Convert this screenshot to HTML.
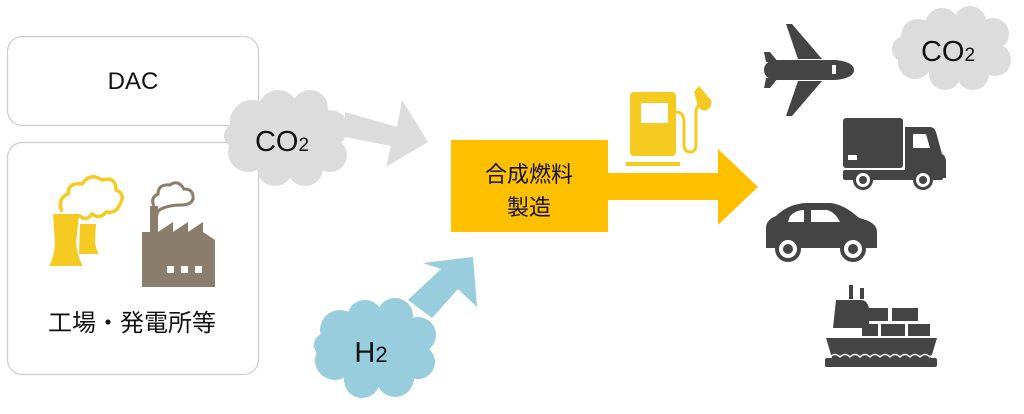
<!DOCTYPE html>
<html><head><meta charset="utf-8"><style>
html,body{margin:0;padding:0;background:#fff;}
svg{display:block}
text{font-family:"Liberation Sans","Noto Sans CJK JP",sans-serif;fill:#111}
</style></head><body>
<svg width="1024" height="414" viewBox="0 0 1024 414" xmlns="http://www.w3.org/2000/svg">
<rect x="7.5" y="36.5" width="251" height="89" rx="15" fill="#fff" stroke="#ccc" stroke-width="1.2"/>
<rect x="7.5" y="142.5" width="251" height="232" rx="15" fill="#fff" stroke="#ccc" stroke-width="1.2"/>
<text x="133" y="89" font-size="24" text-anchor="middle">DAC</text>
<text x="132" y="331" font-size="24" text-anchor="middle">工場・発電所等</text>

<g fill="#f5cb22">
<path d="M53 214 h26 l-3 30 q2 14 7 22 h-34 q5 -8 6 -22 z"/>
<path d="M80 224 h16 l-1 18 q1 8 4 12 h-20 z"/>
</g>
<path d="M62 212 q-5 -14 6 -18 q0 -12 14 -10 q8 -12 20 -4 q14 -4 14 10 q10 4 4 14 q-4 10 -14 8 q-6 8 -14 2 q-6 8 -12 2 q-8 0 -8 6" fill="none" stroke="#f5cb22" stroke-width="3.5"/>
<g fill="#8a7d6b">
<path d="M142 287 v-55 h8 v-26 h8 v26 l15 -10 v10 l15 -10 v10 l15 -10 v10 l12 8 v47 z"/>
</g>
<g fill="#fff"><rect x="167" y="266" width="7" height="7"/><rect x="181" y="266" width="7" height="7"/><rect x="195" y="266" width="7" height="7"/></g>
<path d="M154 206 q-4 -8 4 -12 q0 -10 12 -9 q8 -6 14 4 q10 0 9 10 q-2 6 -12 6 q-12 0 -20 4 q-4 2 -4 6" fill="none" stroke="#8a7d6b" stroke-width="3"/>

<polygon points="345,112 397,127 402,100 428,142 386,167 391,146 345,137" fill="#dcdcdc"/>
<g fill="#dcdcdc">
<circle cx="252" cy="122" r="22"/><circle cx="278" cy="110" r="20"/><circle cx="310" cy="108" r="18"/><circle cx="330" cy="128" r="18"/>
<circle cx="330" cy="155" r="17"/><circle cx="305" cy="168" r="18"/><circle cx="275" cy="168" r="18"/><circle cx="248" cy="152" r="20"/><circle cx="286" cy="140" r="35"/>
<circle cx="236" cy="136" r="12"/>
</g>
<text x="282" y="151" font-size="29" text-anchor="middle">CO<tspan font-size="19">2</tspan></text>

<polygon points="408,300 441,269 423,263 473,257 477,307 458,289 432,318" fill="#97cddc"/>
<g fill="#97cddc">
<circle cx="340" cy="330" r="20"/><circle cx="365" cy="318" r="18"/><circle cx="395" cy="316" r="18"/><circle cx="418" cy="335" r="18"/>
<circle cx="418" cy="362" r="17"/><circle cx="395" cy="378" r="19"/><circle cx="362" cy="380" r="18"/><circle cx="335" cy="360" r="20"/><circle cx="374" cy="350" r="34"/>
<circle cx="326" cy="345" r="12"/>
</g>
<text x="371" y="362" font-size="29" text-anchor="middle">H<tspan font-size="22">2</tspan></text>

<rect x="451" y="140" width="157" height="92" fill="#ffc000"/>
<polygon points="607,173 718,173 718,149 758,187 718,225 718,200 607,200" fill="#ffc000"/>
<text x="529" y="182" font-size="22" text-anchor="middle">合成燃料</text>
<text x="529" y="215" font-size="22" text-anchor="middle">製造</text>

<g fill="#f5cb22">
<rect x="630" y="92" width="46" height="64" rx="4"/>
<rect x="626" y="162" width="54" height="4"/>
</g>
<rect x="641" y="103" width="27" height="20" fill="#fff"/>
<path d="M676 112 q8 0 8 10 v22 q0 8 6 8 q6 0 6 -8 v-34 l6 -12" fill="none" stroke="#f5cb22" stroke-width="3"/>
<path d="M694 92 l5 -6 l12 14 q2 6 -4 10 q-6 2 -9 -4 z" fill="#f5cb22"/>

<g fill="#444">
<path d="M764 70 q0 -8 10 -10 h62 q18 2 18 10 q0 8 -18 10 h-62 q-10 -2 -10 -10 z"/>
<path d="M786 24 h6 l30 35 h-24 z"/>
<path d="M786 116 h6 l30 -35 h-24 z"/>
<path d="M764 52 l6 0 l8 10 h-12 z"/>
<path d="M764 88 l6 0 l8 -10 h-12 z"/>
</g>
<rect x="832" y="65" width="4" height="9" fill="#fff"/>

<g fill="#dcdcdc">
<circle cx="918" cy="36" r="17"/><circle cx="942" cy="25" r="17"/><circle cx="970" cy="22" r="16"/><circle cx="993" cy="34" r="16"/>
<circle cx="995" cy="60" r="16"/><circle cx="973" cy="74" r="16"/><circle cx="945" cy="74" r="16"/><circle cx="915" cy="62" r="17"/><circle cx="955" cy="50" r="32"/>
<circle cx="905" cy="49" r="13"/>
</g>
<text x="948" y="61" font-size="29" text-anchor="middle">CO<tspan font-size="19">2</tspan></text>

<g fill="#444">
<rect x="843" y="118" width="60" height="50" rx="3"/>
<path d="M905 127 h25 q4 0 6 5 l6 22 q4 2 4 8 v16 h-41 z"/>
<rect x="843" y="170" width="100" height="10" rx="2"/>
<circle cx="863" cy="180" r="10"/><circle cx="923" cy="180" r="10"/>
</g>
<path d="M913 134 h13 l4 14 h-17 z" fill="#fff"/>
<rect x="848" y="155" width="9" height="5" fill="#fff"/>
<circle cx="863" cy="180" r="7" fill="#fff"/><circle cx="863" cy="180" r="4" fill="#444"/>
<circle cx="923" cy="180" r="7" fill="#fff"/><circle cx="923" cy="180" r="4" fill="#444"/>

<g fill="#444">
<path d="M766 228 q0 -8 10 -12 q12 -12 30 -13 h25 q14 2 28 15 q18 4 18 14 v16 h-111 z"/>
<circle cx="788" cy="249" r="13"/><circle cx="853" cy="249" r="13"/>
</g>
<path d="M790 216 q6 -6 14 -6 v12 h-16 z M811 210 h16 q8 2 13 12 h-29 z" fill="#fff"/>
<circle cx="788" cy="249" r="9" fill="#fff"/><circle cx="788" cy="249" r="5" fill="#444"/>
<circle cx="853" cy="249" r="9" fill="#fff"/><circle cx="853" cy="249" r="5" fill="#444"/>

<g fill="#444">
<rect x="849" y="285" width="4" height="14"/><rect x="860" y="288" width="4" height="11"/>
<path d="M836 300 h25 q6 0 8 8 v20 h-36 z"/>
<rect x="862" y="308" width="26" height="13"/><rect x="892" y="308" width="26" height="13"/>
<rect x="862" y="324" width="16" height="12"/><rect x="881" y="324" width="24" height="12"/><rect x="908" y="324" width="22" height="12"/>
<path d="M826 338 h111 l-6 20 h-99 z"/>
<rect x="825" y="358" width="112" height="9" rx="2"/>
</g>
<path d="M830 357 q5 -5 10 0 q5 -5 10 0 q5 -5 10 0 q5 -5 10 0 q5 -5 10 0 q5 -5 10 0 q5 -5 10 0 q5 -5 10 0 q5 -5 10 0 q5 -5 10 0 q5 -5 10 0" fill="none" stroke="#fff" stroke-width="1.5"/>
</svg>
</body></html>
